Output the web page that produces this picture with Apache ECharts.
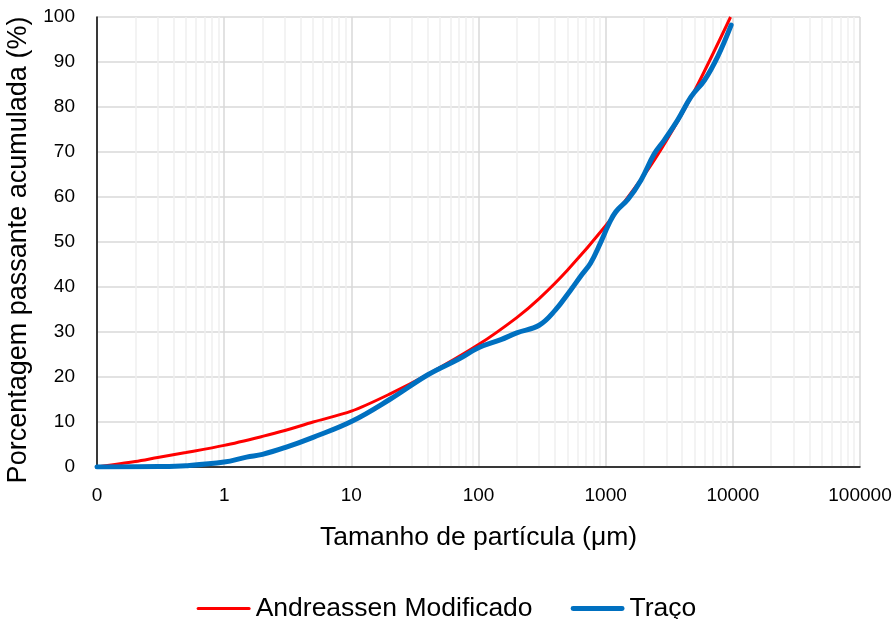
<!DOCTYPE html>
<html>
<head>
    <meta charset="UTF-8">
    <title>Distribuição granulométrica</title>
    <script src="https://cdn.jsdelivr.net/npm/echarts@6/dist/echarts.min.js"></script>
    <style>
        html, body { margin: 0; padding: 0; background: #fff; }
    </style>
</head>
<body>
    <div id="main" style="width: 893px;height:619px;"></div>
    <script type="text/javascript">
        var myChart = echarts.init(document.getElementById('main'));

        // tamanho de partícula (µm) e porcentagem passante acumulada (%)
        var andreassenSize = [0.1, 0.2, 0.3, 0.5, 1, 2, 3, 5, 10, 20, 40, 100, 200, 300, 500, 1000, 2000, 3000, 5000, 9600];
        var andreassenPct  = [0, 1.2, 2.1, 3.2, 4.8, 6.8, 8.1, 10.0, 12.4, 16.2, 20.6, 27.2, 33.2, 37.4, 43.7, 53.6, 64.8, 72.5, 83.6, 100];

        var tracoSize = [0.1, 0.3, 0.5, 1, 1.5, 2, 3, 5, 10, 20, 40, 70, 100, 150, 200, 300, 400, 530, 640, 760, 910, 1060, 1200, 1500, 1900, 2400, 2900, 3700, 4700, 6000, 7600, 9700];
        var tracoPct  = [0, 0.1, 0.3, 1.1, 2.2, 2.8, 4.3, 6.6, 10.1, 15.0, 20.5, 24.0, 26.5, 28.3, 29.8, 31.5, 34.8, 39.3, 42.5, 45.3, 49.8, 54.0, 56.7, 59.5, 63.8, 69.5, 72.7, 77.2, 82.3, 86.0, 91.2, 98.2];

        // rótulos do eixo x (0.1 aparece como "0" no original)
        var xTickLabels = { 0.1: '0', 1: '1', 10: '10', 100: '100', 1000: '1000', 10000: '10000', 100000: '100000' };

        function pairs(xs, ys) {
            return xs.map(function (x, i) { return [x, ys[i]]; });
        }

        // linhas de grade secundárias (2..9 em cada década)
        var minorLines = [];
        [0.1, 1, 10, 100, 1000, 10000].forEach(function (d) {
            for (var k = 2; k <= 9; k++) {
                minorLines.push({ xAxis: +(d * k).toPrecision(6) });
            }
        });

        var fontFamily = 'Liberation Sans, Arial, sans-serif';

        var option = {
            animation: false,
            textStyle: { fontFamily: fontFamily },
            grid: { left: 97, right: 33, top: 17, bottom: 152, outerBoundsMode: 'none', containLabel: false },
            legend: {
                data: [
                    { name: 'Andreassen Modificado', icon: 'path://M1.5,0 H52.5 A1.5,1.5 0 0 1 52.5,3 H1.5 A1.5,1.5 0 0 1 1.5,0 Z' },
                    { name: 'Traço', icon: 'path://M2.5,0 H52.5 A2.5,2.5 0 0 1 52.5,5 H2.5 A2.5,2.5 0 0 1 2.5,0 Z' }
                ],
                top: 590,
                left: 'center',
                itemWidth: 54,
                itemHeight: 14,
                itemGap: 38,
                textStyle: { fontSize: 26.5, color: '#000', fontFamily: fontFamily }
            },
            xAxis: {
                type: 'log',
                logBase: 10,
                min: 0.1,
                max: 100000,
                name: 'Tamanho de partícula (\u03bcm)',
                nameLocation: 'middle',
                nameGap: 57,
                nameTextStyle: { fontSize: 26.5, color: '#000' },
                axisLine: { lineStyle: { color: '#000', width: 1.5 } },
                axisTick: { show: false },
                axisLabel: {
                    fontSize: 19,
                    color: '#000',
                    margin: 19,
                    formatter: function (v) {
                        var key = +v.toPrecision(6);
                        return xTickLabels[key] !== undefined ? xTickLabels[key] : '';
                    }
                },
                splitLine: { show: true, lineStyle: { color: '#d9d9d9', width: 1.5 } }
            },
            yAxis: {
                type: 'value',
                min: 0,
                max: 100,
                interval: 10,
                name: 'Porcentagem passante acumulada (%)',
                nameLocation: 'middle',
                nameGap: 60,
                nameTextStyle: { fontSize: 27, color: '#000', padding: [0, 16, 0, 0] },
                axisLine: { show: true, lineStyle: { color: '#000', width: 1.5 } },
                axisTick: { show: false },
                axisLabel: { fontSize: 19, color: '#000', margin: 22 },
                splitLine: { show: true, lineStyle: { color: '#d9d9d9', width: 1.5 } }
            },
            series: [
                {
                    name: 'grade',
                    type: 'line',
                    data: [],
                    z: 0,
                    silent: true,
                    markLine: {
                        silent: true,
                        z: 0,
                        symbol: 'none',
                        label: { show: false },
                        emphasis: { disabled: true },
                        lineStyle: { color: '#efefef', width: 1.5, type: 'solid' },
                        data: minorLines
                    }
                },
                {
                    name: 'Andreassen Modificado',
                    type: 'line',
                    data: pairs(andreassenSize, andreassenPct),
                    smooth: 0.3,
                    symbol: 'none',
                    z: 3,
                    lineStyle: { color: '#ff0000', width: 3 },
                    itemStyle: { color: '#ff0000' }
                },
                {
                    name: 'Traço',
                    type: 'line',
                    data: pairs(tracoSize, tracoPct),
                    smooth: 0.4,
                    symbol: 'none',
                    z: 4,
                    lineStyle: { color: '#0070c0', width: 5, cap: 'round', join: 'round' },
                    itemStyle: { color: '#0070c0' }
                }
            ]
        };

        myChart.setOption(option);
    </script>
</body>
</html>
